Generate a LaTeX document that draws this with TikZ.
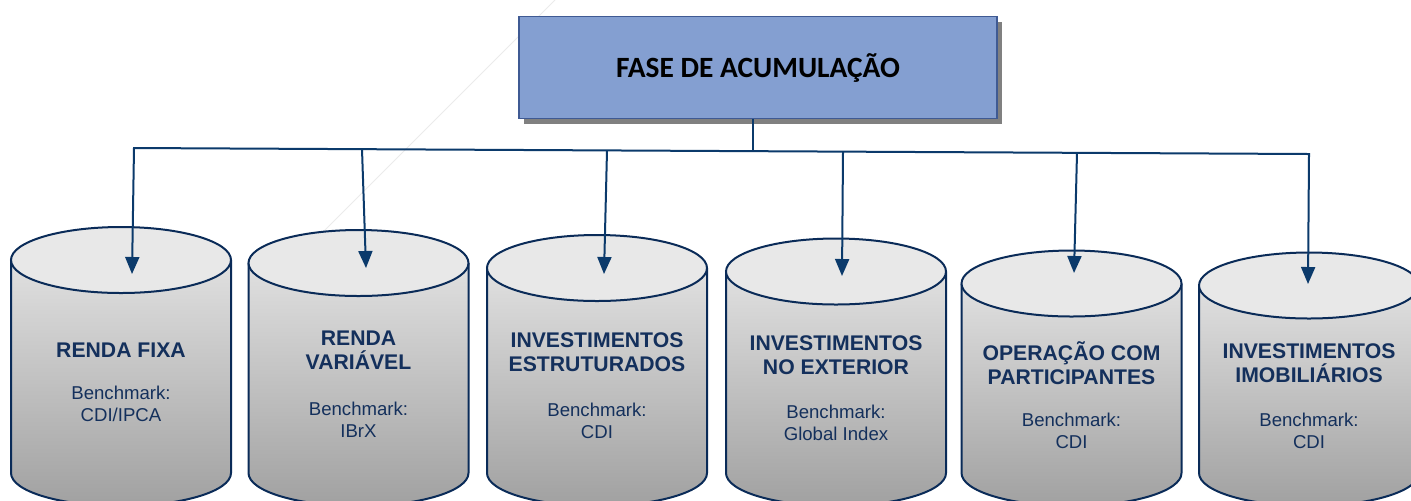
\documentclass[tikz,border=0pt]{standalone}
\usepackage{fontspec}
\setmainfont{Liberation Sans}
\newfontfamily\carlito{Carlito}
\usetikzlibrary{arrows.meta,shadows}
\definecolor{navy}{HTML}{0B3A6B}
\definecolor{cyledgecol}{HTML}{0A2B58}
\definecolor{txtnavy}{HTML}{14305C}
\definecolor{boxfill}{HTML}{849FD1}
\definecolor{boxline}{HTML}{3F5A93}
\tikzset{
  conn/.style={draw=navy, line width=1pt, line join=miter},
  tip/.tip={Triangle[length=8.5pt,width=7pt]},
  arr/.style={conn, -tip},
  cylbody/.style={top color=black!12, bottom color=black!37},
  cyledge/.style={draw=cyledgecol, line width=1pt},
  cyltop/.style={cyledge, fill=black!9},
  title/.style={text=txtnavy, font=\fontsize{10.6}{12}\selectfont\bfseries, align=center, inner sep=0pt},
  bench/.style={text=txtnavy, font=\fontsize{9.3}{11}\selectfont, align=center, inner sep=0pt},
  mainbox/.style={draw=boxline, line width=0.8pt, fill=boxfill, minimum width=239pt, minimum height=51pt,
    font=\fontsize{14.7}{17}\selectfont\carlito\bfseries,
    drop shadow={shadow xshift=2.5pt, shadow yshift=-2.5pt, fill=black!50, opacity=1}}
}
\newcommand\drawcyl[2]{%
  \pgfmathsetmacro\xl{#1-110}%
  \pgfmathsetmacro\xr{#1+110}%
  \path[cylbody] (\xl,#2) -- (\xl,473) .. controls (\xl,491.2) and ({#1-60.75},506) .. (#1,506)
     .. controls ({#1+60.75},506) and (\xr,491.2) .. (\xr,473) -- (\xr,#2) -- cycle;
  \draw[cyledge] (\xl,#2) -- (\xl,473) .. controls (\xl,491.2) and ({#1-60.75},506) .. (#1,506)
     .. controls ({#1+60.75},506) and (\xr,491.2) .. (\xr,473) -- (\xr,#2);
  \draw[cyltop] (#1,#2) ellipse [x radius=110, y radius=33];
}
\begin{document}
\begin{tikzpicture}[x=0.5pt,y=-0.5pt]
\useasboundingbox (0,0) rectangle (1411,500);
\clip (0,0) rectangle (1411,500);
% faint background stroke
\draw[black!8, line width=0.4pt] (555,0) -- (320,235);
% cylinders
\drawcyl{121}{260}
\drawcyl{358.5}{263}
\drawcyl{597}{268}
\drawcyl{836}{271.5}
\drawcyl{1071.5}{283.5}
\drawcyl{1309}{285.5}
% top box
\node[mainbox] (top) at (758,67.5) {FASE DE ACUMULAÇÃO};
% connector points
\coordinate (j1) at (134,148);
\coordinate (j2) at (362,149.2);
\coordinate (j3) at (607,150.4);
\coordinate (jt) at (753,151.2);
\coordinate (j4) at (843,151.6);
\coordinate (j5) at (1077,152.8);
\coordinate (j6) at (1309,154);
\coordinate (t1) at (132,274);
\coordinate (t2) at (366,268);
\coordinate (t3) at (604,274);
\coordinate (t4) at (842,276);
\coordinate (t5) at (1074,273);
\coordinate (t6) at (1308,284);
\draw[conn] (jt |- top.south) -- (jt);
\draw[conn, tip-tip] (t1) -- (j1) -- (j6) -- (t6);
\draw[arr] (j2) -- (t2);
\draw[arr] (j3) -- (t3);
\draw[arr] (j4) -- (t4);
\draw[arr] (j5) -- (t5);
% labels
\node[title] (c1) at (121,350) {RENDA FIXA};
\node[bench] (b1) at (121,404) {Benchmark:\\CDI/IPCA};
\node[title] (c2) at (358.5,350) {RENDA\\VARIÁVEL};
\node[bench] (b2) at (358.5,419.5) {Benchmark:\\IBrX};
\node[title] (c3) at (597,352.5) {INVESTIMENTOS\\ESTRUTURADOS};
\node[bench] (b3) at (597,421) {Benchmark:\\CDI};
\node[title] (c4) at (836,355.5) {INVESTIMENTOS\\NO EXTERIOR};
\node[bench] (b4) at (836,422.5) {Benchmark:\\Global Index};
\node[title] (c5) at (1071.5,363.5) {OPERAÇÃO COM\\PARTICIPANTES};
\node[bench] (b5) at (1071.5,430.5) {Benchmark:\\CDI};
\node[title] (c6) at (1309,363.5) {INVESTIMENTOS\\IMOBILIÁRIOS};
\node[bench] (b6) at (1309,430.5) {Benchmark:\\CDI};
\end{tikzpicture}
\end{document}
